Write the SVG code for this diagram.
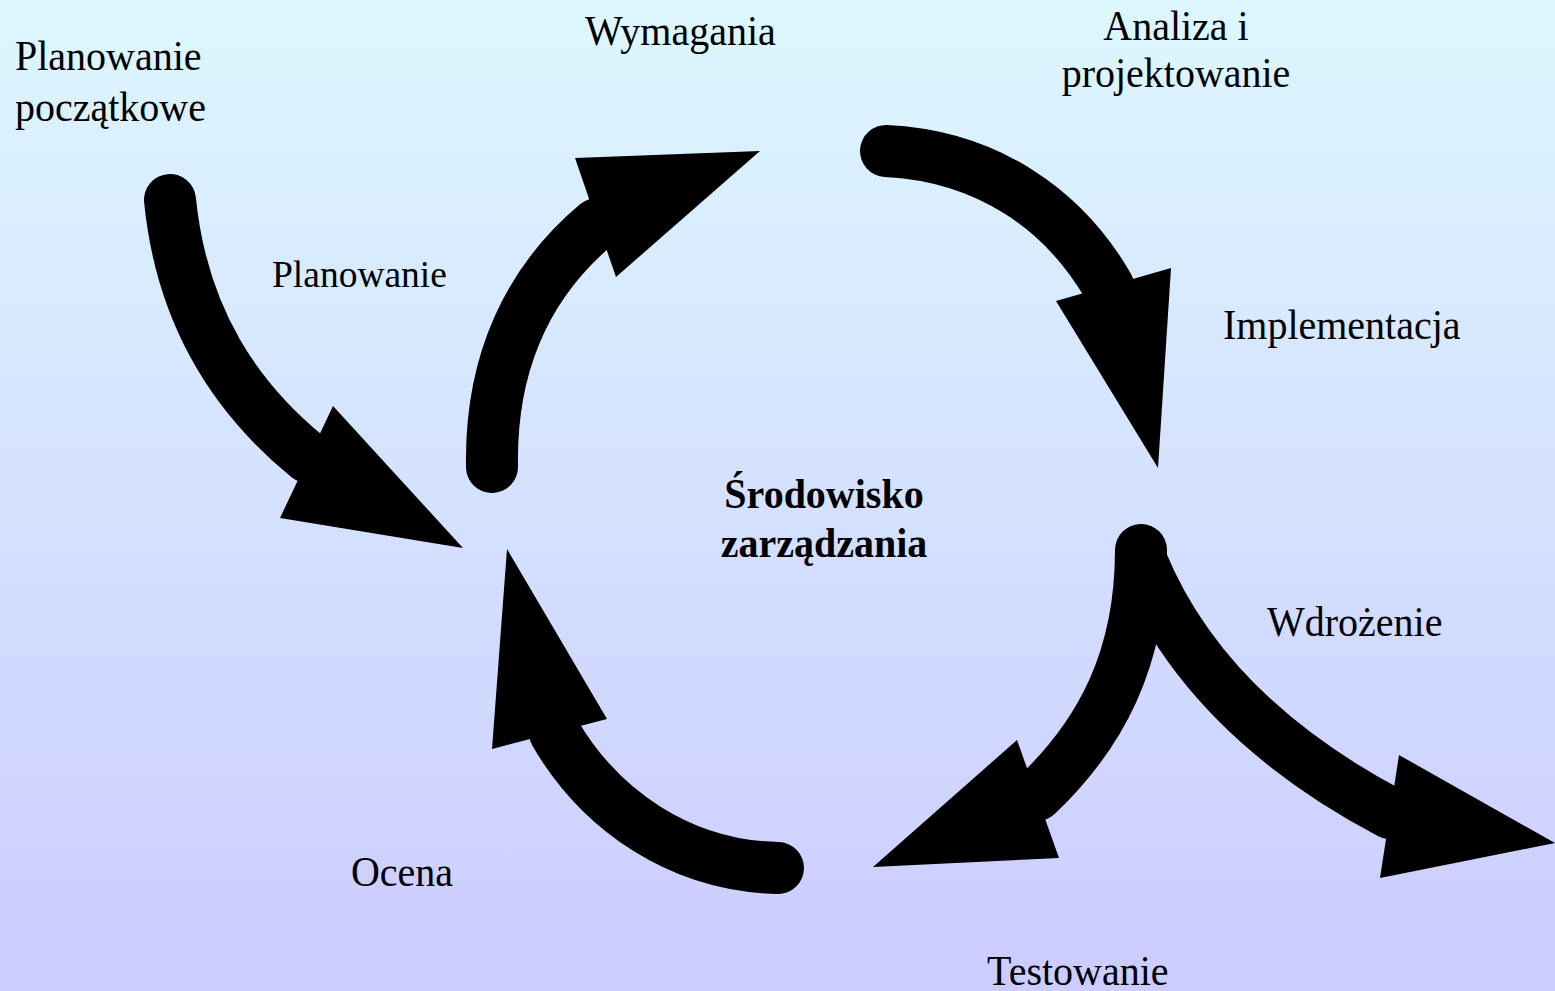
<svg xmlns="http://www.w3.org/2000/svg" width="1555" height="991" viewBox="0 0 1555 991">
  <defs>
    <linearGradient id="bg" x1="0" y1="0" x2="0" y2="1">
      <stop offset="0" stop-color="#DDF7FE"/>
      <stop offset="1" stop-color="#CCCCFF"/>
    </linearGradient>
    <style>
      .shaft { fill: none; stroke: #000; stroke-width: 52; stroke-linecap: round; }
      .head { fill: #000; stroke: none; }
      .lbl { font-family: "Liberation Serif", "Times New Roman", serif; font-size: 40px; fill: #000; }
      .small { font-size: 37.5px; }
      .bold { font-weight: bold; }
    </style>
  </defs>

  <rect x="0" y="0" width="1555" height="991" fill="url(#bg)"/>

  <!-- curved block arrows of the cycle -->
  <g id="connectors">
    <!-- Planowanie: from initial planning into the cycle -->
    <path class="shaft" d="M170,200 C182,320 238,400 308,457"/>
    <polygon class="head" points="333,406 463,548 280,518"/>

    <!-- Wymagania -->
    <path class="shaft" d="M492,467 C490,360 530,280 597,224"/>
    <polygon class="head" points="575,158 760,151 616,277"/>

    <!-- Analiza i projektowanie -> Implementacja -->
    <path class="shaft" d="M886,151 C988,156 1064,210 1108,286"/>
    <polygon class="head" points="1171,268 1158,468 1056,301"/>

    <!-- Implementacja -> Testowanie -->
    <path class="shaft" d="M1141,550 C1141,660 1100,735 1037,795"/>
    <polygon class="head" points="1017,740 1059,858 873,867"/>

    <!-- Implementacja -> Wdrożenie -->
    <path class="shaft" d="M1141,560 C1190,680 1290,760 1390,813"/>
    <polygon class="head" points="1399,755 1555,843 1380,878"/>

    <!-- Ocena -->
    <path class="shaft" d="M778,868 C680,866 600,810 555,733"/>
    <polygon class="head" points="607,719 507,549 492,749"/>
  </g>

  <g id="planowanie-poczatkowe">
    <text class="lbl" transform="translate(15,70) scale(1,1.07)">Planowanie</text>
    <text class="lbl" transform="translate(15,121) scale(1,1.07)">początkowe</text>
  </g>
  <g id="planowanie">
    <text class="lbl small" transform="translate(272,287) scale(1,1.02)">Planowanie</text>
  </g>
  <g id="wymagania">
    <text class="lbl" transform="translate(585,45) scale(1,1.07)">Wymagania</text>
  </g>
  <g id="analiza">
    <text class="lbl" text-anchor="middle" transform="translate(1176,40) scale(1,1.07)">Analiza i</text>
    <text class="lbl" text-anchor="middle" transform="translate(1176,87) scale(1,1.07)">projektowanie</text>
  </g>
  <g id="implementacja">
    <text class="lbl" transform="translate(1223,339) scale(1,1.07)">Implementacja</text>
  </g>
  <g id="wdrozenie">
    <text class="lbl" transform="translate(1267,636) scale(1,1.07)">Wdrożenie</text>
  </g>
  <g id="testowanie">
    <text class="lbl" transform="translate(987,985) scale(1,1.07)">Testowanie</text>
  </g>
  <g id="ocena">
    <text class="lbl" transform="translate(351,886) scale(1,1.07)">Ocena</text>
  </g>
  <g id="srodowisko">
    <text class="lbl bold" text-anchor="middle" transform="translate(824,508) scale(1,1.07)">Środowisko</text>
    <text class="lbl bold" text-anchor="middle" transform="translate(824,557) scale(1,1.07)">zarządzania</text>
  </g>
</svg>
